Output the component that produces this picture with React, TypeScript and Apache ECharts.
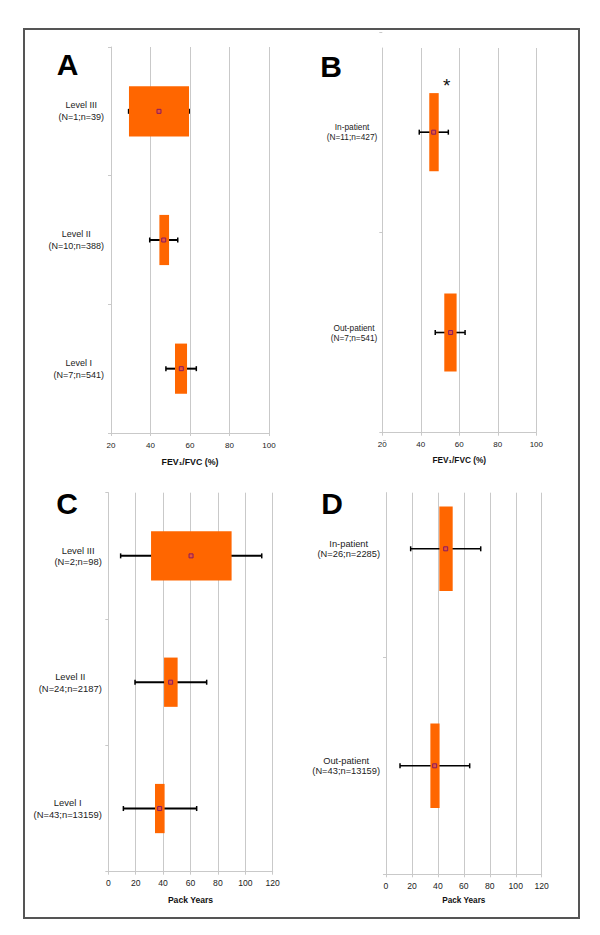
import React, { useEffect, useRef } from 'react';
import * as echarts from 'echarts';

// ---------- Data ----------
// Panel A: FEV1/FVC by level (bottom to top)
const aNames = ['Level I', 'Level II', 'Level III'];
const aCounts = ['(N=7;n=541)', '(N=10;n=388)', '(N=1;n=39)'];
const aBoxLow = [52.4, 44.5, 29.1];
const aBoxHigh = [58.5, 49.4, 59.5];
const aMean = [55.6, 46.7, 44.3];
const aErrLow = [47.8, 39.6, 28.9];
const aErrHigh = [63.2, 53.8, 59.6];
const aMarks = ['', '', ''];

// Panel B: FEV1/FVC by setting
const bNames = ['Out-patient', 'In-patient'];
const bCounts = ['(N=7;n=541)', '(N=11;n=427)'];
const bBoxLow = [52.2, 44.4];
const bBoxHigh = [58.6, 49.3];
const bMean = [55.5, 46.7];
const bErrLow = [47.5, 39.2];
const bErrHigh = [63.0, 54.3];
const bMarks = ['', '*'];

// Panel C: Pack years by level
const cNames = ['Level I', 'Level II', 'Level III'];
const cCounts = ['(N=43;n=13159)', '(N=24;n=2187)', '(N=2;n=98)'];
const cBoxLow = [34.1, 40.7, 31.2];
const cBoxHigh = [41.1, 50.6, 90.0];
const cMean = [37.5, 45.5, 60.4];
const cErrLow = [11.0, 19.5, 9.0];
const cErrHigh = [64.5, 71.8, 112.0];
const cMarks = ['', '', ''];

// Panel D: Pack years by setting
const dNames = ['Out-patient', 'In-patient'];
const dCounts = ['(N=43;n=13159)', '(N=26;n=2285)'];
const dBoxLow = [34.2, 41.1];
const dBoxHigh = [41.3, 51.4];
const dMean = [37.5, 46.0];
const dErrLow = [10.8, 19.0];
const dErrHigh = [64.5, 73.0];
const dMarks = ['', ''];

const fevTicks = [20, 40, 60, 80, 100];
const packTicks = [0, 20, 40, 60, 80, 100, 120];
const fevTitle = 'FEV\u2081/FVC (%)';
const packTitle = 'Pack Years';
const panelLetters = ['A', 'B', 'C', 'D'];

// ---------- Layout ----------
const W = 600;
const H = 935;
const FONT = '"Liberation Sans", Arial, Helvetica, sans-serif';
const GRID_COLOR = '#c9c9c9';
const BOX_COLOR = '#ff6600';

type Panel = {
  names: string[];
  counts: string[];
  boxLow: number[];
  boxHigh: number[];
  mean: number[];
  errLow: number[];
  errHigh: number[];
  marks: string[];
  ticks: number[];
  title: string;
  letter: string;
  letterX: number;
  letterY: number;
  left: number;
  width: number;
  top: number; // category band top
  lineTop: number; // gridline top
  bottomY: number; // axis line y
  labelSize: number;
  labelLH: number;
  labelMargin: number;
  tickSize: number;
  tickMargin: number;
  titleSize: number;
  titleGap: number;
  errWidth: number;
};

const panels: Panel[] = [
  {
    names: aNames, counts: aCounts, boxLow: aBoxLow, boxHigh: aBoxHigh, mean: aMean,
    errLow: aErrLow, errHigh: aErrHigh, marks: aMarks, ticks: fevTicks, title: fevTitle,
    letter: panelLetters[0], letterX: 67.5, letterY: 64,
    left: 111, width: 158, top: 47, lineTop: 47, bottomY: 433,
    labelSize: 9, labelLH: 11.7, labelMargin: 7, tickSize: 8, tickMargin: 8, titleSize: 8.8, titleGap: 24, errWidth: 2,
  },
  {
    names: bNames, counts: bCounts, boxLow: bBoxLow, boxHigh: bBoxHigh, mean: bMean,
    errLow: bErrLow, errHigh: bErrHigh, marks: bMarks, ticks: fevTicks, title: fevTitle,
    letter: panelLetters[1], letterX: 331, letterY: 66,
    left: 382.3, width: 154, top: 32, lineTop: 48, bottomY: 432.7,
    labelSize: 8.3, labelLH: 10, labelMargin: 5, tickSize: 8, tickMargin: 8, titleSize: 8.3, titleGap: 23, errWidth: 1.6,
  },
  {
    names: cNames, counts: cCounts, boxLow: cBoxLow, boxHigh: cBoxHigh, mean: cMean,
    errLow: cErrLow, errHigh: cErrHigh, marks: cMarks, ticks: packTicks, title: packTitle,
    letter: panelLetters[2], letterX: 67, letterY: 503,
    left: 108.3, width: 164.4, top: 492.7, lineTop: 492.7, bottomY: 871.7,
    labelSize: 9.4, labelLH: 11.7, labelMargin: 6.5, tickSize: 8.6, tickMargin: 7, titleSize: 8.6, titleGap: 24, errWidth: 2,
  },
  {
    names: dNames, counts: dCounts, boxLow: dBoxLow, boxHigh: dBoxHigh, mean: dMean,
    errLow: dErrLow, errHigh: dErrHigh, marks: dMarks, ticks: packTicks, title: packTitle,
    letter: panelLetters[3], letterX: 332, letterY: 503,
    left: 386, width: 155.7, top: 440.3, lineTop: 492.7, bottomY: 874.3,
    labelSize: 9.3, labelLH: 10.4, labelMargin: 6, tickSize: 8.6, tickMargin: 7, titleSize: 8.2, titleGap: 22, errWidth: 1.6,
  },
];

function makeRenderItem(p: Panel) {
  return (params: any, api: any) => {
    const cat = api.value(0);
    const lo = api.coord([api.value(1), cat]);
    const hi = api.coord([api.value(2), cat]);
    const eL = api.coord([api.value(3), cat])[0];
    const eH = api.coord([api.value(4), cat])[0];
    const m = api.coord([api.value(5), cat])[0];
    const y = lo[1];
    const band = api.size([0, 1])[1];
    const h = band * 0.39;
    const children: any[] = [
      { type: 'line', shape: { x1: eL, y1: y, x2: eH, y2: y }, style: { stroke: '#000', lineWidth: p.errWidth } },
      { type: 'line', shape: { x1: eL, y1: y - 2.5, x2: eL, y2: y + 2.5 }, style: { stroke: '#000', lineWidth: 1.5 } },
      { type: 'line', shape: { x1: eH, y1: y - 2.5, x2: eH, y2: y + 2.5 }, style: { stroke: '#000', lineWidth: 1.5 } },
      { type: 'rect', shape: { x: lo[0], y: y - h / 2, width: hi[0] - lo[0], height: h }, style: { fill: BOX_COLOR } },
      { type: 'rect', shape: { x: m - 2, y: y - 2, width: 4, height: 4 }, style: { fill: '#e8553a', stroke: '#8b1a5e', lineWidth: 1 } },
    ];
    const mark = p.marks[params.dataIndex];
    if (mark) {
      children.push({
        type: 'text',
        style: {
          text: mark, x: eH - 1.5, y: y - h / 2 - 8, align: 'center', verticalAlign: 'middle',
          fontSize: 19, fontFamily: FONT, fill: '#111',
        },
      });
    }
    return { type: 'group', children };
  };
}

export default function App() {
  const ref = useRef<HTMLDivElement>(null);
  useEffect(() => {
    if (!ref.current) return;
    const chart = echarts.init(ref.current, undefined, { renderer: 'svg', width: W, height: H });
    const grid: any[] = [];
    const xAxis: any[] = [];
    const yAxis: any[] = [];
    const series: any[] = [];
    const graphic: any[] = [
      { type: 'rect', shape: { x: 24, y: 29, width: 555, height: 889 }, style: { fill: 'none', stroke: '#555', lineWidth: 2 }, z: 10 },
    ];
    panels.forEach((p, i) => {
      const min = p.ticks[0];
      const max = p.ticks[p.ticks.length - 1];
      const interval = p.ticks[1] - p.ticks[0];
      const right = W - p.left - p.width;
      const bottom = H - p.bottomY;
      grid.push({ left: p.left, right, top: p.top, bottom, containLabel: false });
      grid.push({ left: p.left, right, top: p.lineTop, bottom, containLabel: false });
      // main x axis (hidden)
      xAxis.push({ type: 'value', gridIndex: 2 * i, min, max, interval, show: false });
      // visible x axis with gridlines
      xAxis.push({
        type: 'value', gridIndex: 2 * i + 1, min, max, interval,
        axisLine: { show: true, lineStyle: { color: GRID_COLOR, width: 1 } },
        axisTick: { show: true, length: 3, lineStyle: { color: GRID_COLOR } },
        splitLine: { show: true, lineStyle: { color: GRID_COLOR, width: 1 } },
        axisLabel: { fontSize: p.tickSize, color: '#222', fontFamily: FONT, margin: p.tickMargin },
        name: p.title, nameLocation: 'middle', nameGap: p.titleGap,
        nameTextStyle: { fontSize: p.titleSize, fontWeight: 'bold', color: '#111', fontFamily: FONT, verticalAlign: 'top' },
      });
      yAxis.push({
        type: 'category', gridIndex: 2 * i, data: p.names,
        axisLine: { show: false },
        axisTick: { show: true, length: 3, lineStyle: { color: GRID_COLOR } },
        splitLine: { show: false },
        axisLabel: {
          margin: p.labelMargin,
          formatter: (_v: string, idx: number) => `{a|${p.names[idx]}}\n{a|${p.counts[idx]}}`,
          rich: { a: { align: 'center', fontSize: p.labelSize, lineHeight: p.labelLH, color: '#222', fontFamily: FONT } },
        },
      });
      yAxis.push({
        type: 'value', gridIndex: 2 * i + 1, min: 0, max: 1,
        axisLine: { show: true, lineStyle: { color: GRID_COLOR, width: 1 } },
        axisTick: { show: false }, axisLabel: { show: false }, splitLine: { show: false },
      });
      series.push({
        type: 'custom',
        xAxisIndex: 2 * i,
        yAxisIndex: 2 * i,
        renderItem: makeRenderItem(p),
        encode: { x: [1, 2, 3, 4, 5], y: 0 },
        data: p.names.map((_, k) => [k, p.boxLow[k], p.boxHigh[k], p.errLow[k], p.errHigh[k], p.mean[k]]),
        z: 5,
      });
      graphic.push({
        type: 'text', x: p.letterX, y: p.letterY,
        style: { text: p.letter, fontSize: 30, fontWeight: 'bold', fontFamily: FONT, fill: '#000', align: 'center', verticalAlign: 'middle' },
      });
    });
    chart.setOption({
      animation: false,
      backgroundColor: '#fff',
      textStyle: { fontFamily: FONT },
      grid, xAxis, yAxis, series, graphic,
    });
    return () => chart.dispose();
  }, []);
  return (
    <div
      ref={ref}
      style={{ position: 'absolute', left: 0, top: 0, width: W, height: H, background: '#fff' }}
    />
  );
}
